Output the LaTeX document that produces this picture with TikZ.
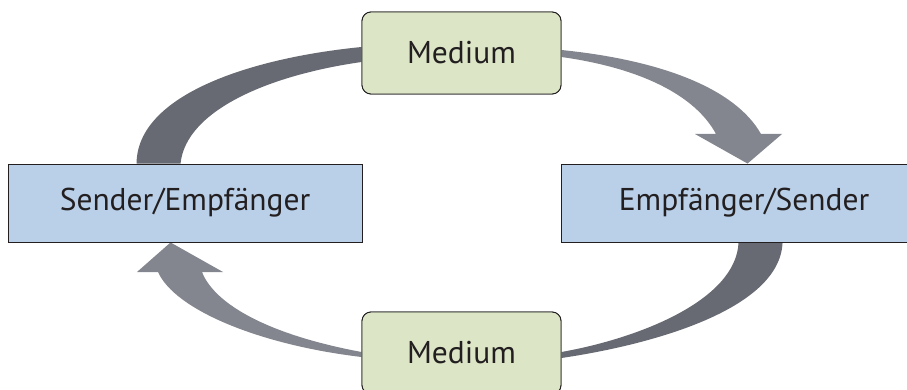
\documentclass[tikz,border=0pt]{standalone}
\usepackage{fontspec}
\setmainfont{PT Sans}
\usetikzlibrary{calc}
\definecolor{boxblue}{HTML}{BAD0E8}
\definecolor{boxgreen}{HTML}{DCE6C7}
\definecolor{banddark}{HTML}{676A72}
\definecolor{bandlight}{HTML}{83868E}
\definecolor{txt}{HTML}{231F20}
\tikzset{
  medbox/.style={draw=txt, line width=0.9pt, fill=boxgreen, rounded corners=9pt,
    minimum width=199pt, minimum height=82pt, inner sep=0pt, text=txt,
    font=\fontsize{31.5}{36}\selectfont},
  bluebox/.style={draw=txt, line width=0.9pt, fill=boxblue,
    minimum height=78pt, inner sep=0pt, text=txt,
    font=\fontsize{31.5}{36}\selectfont},
  darkband/.style={fill=banddark, draw=none},
  lightband/.style={fill=bandlight, draw=none}
}
\begin{document}
\begin{tikzpicture}[x=1pt,y=-1pt]
\useasboundingbox (0,0) rectangle (907,390);
\clip (0,0) rectangle (907,390);
% nodes (placed first so anchors exist), drawn on top later
\path
  (461.5,53) node[medbox] (m1) {Medium}
  (185,203) node[bluebox, minimum width=354pt] (s) {Sender/Empfänger}
  (744,203) node[bluebox, minimum width=366pt] (e) {Empfänger/Sender}
  (461.5,353) node[medbox] (m2) {Medium};
% upper-left band: sender -> medium
\fill[darkband] ([xshift=129pt]s.north west)
  .. controls (137,95) and (250,58) .. ([yshift=6pt]m1.west)
  -- ([yshift=-9pt]m1.west)
  .. controls (270,75) and (186,110) .. ([xshift=173pt]s.north west) -- cycle;
% upper-right arrow: medium -> receiver
\coordinate (urtip) at ([xshift=187pt]e.north west);
\fill[lightband] ([yshift=3pt]m1.east)
  .. controls (660,60) and (735,88) .. (761,134)
  -- (782,134) -- (urtip) -- (695,134) -- (716,134)
  .. controls (695,95) and (640,68) .. ([yshift=-4pt]m1.east) -- cycle;
% lower-right band: receiver -> medium
\fill[darkband] ([xshift=222pt]e.south west)
  .. controls (780,310) and (650,345) .. ([yshift=-5pt]m2.east)
  -- ([yshift=1pt]m2.east)
  .. controls (640,338) and (736,300) .. ([xshift=178pt]e.south west) -- cycle;
% lower-left arrow: medium -> sender
\coordinate (lltip) at ([xshift=163pt]s.south west);
\fill[lightband] ([yshift=-4pt]m2.west)
  .. controls (260,345) and (175,310) .. (158,272)
  -- (137,272) -- (lltip) -- (223,272) -- (202,272)
  .. controls (215,305) and (270,335) .. ([yshift=1pt]m2.west) -- cycle;
% redraw nodes on top
\path
  (461.5,53) node[medbox] {Medium}
  (185,203) node[bluebox, minimum width=354pt] {Sender/Empfänger}
  (744,203) node[bluebox, minimum width=366pt] {Empfänger/Sender}
  (461.5,353) node[medbox] {Medium};
\end{tikzpicture}
\end{document}
